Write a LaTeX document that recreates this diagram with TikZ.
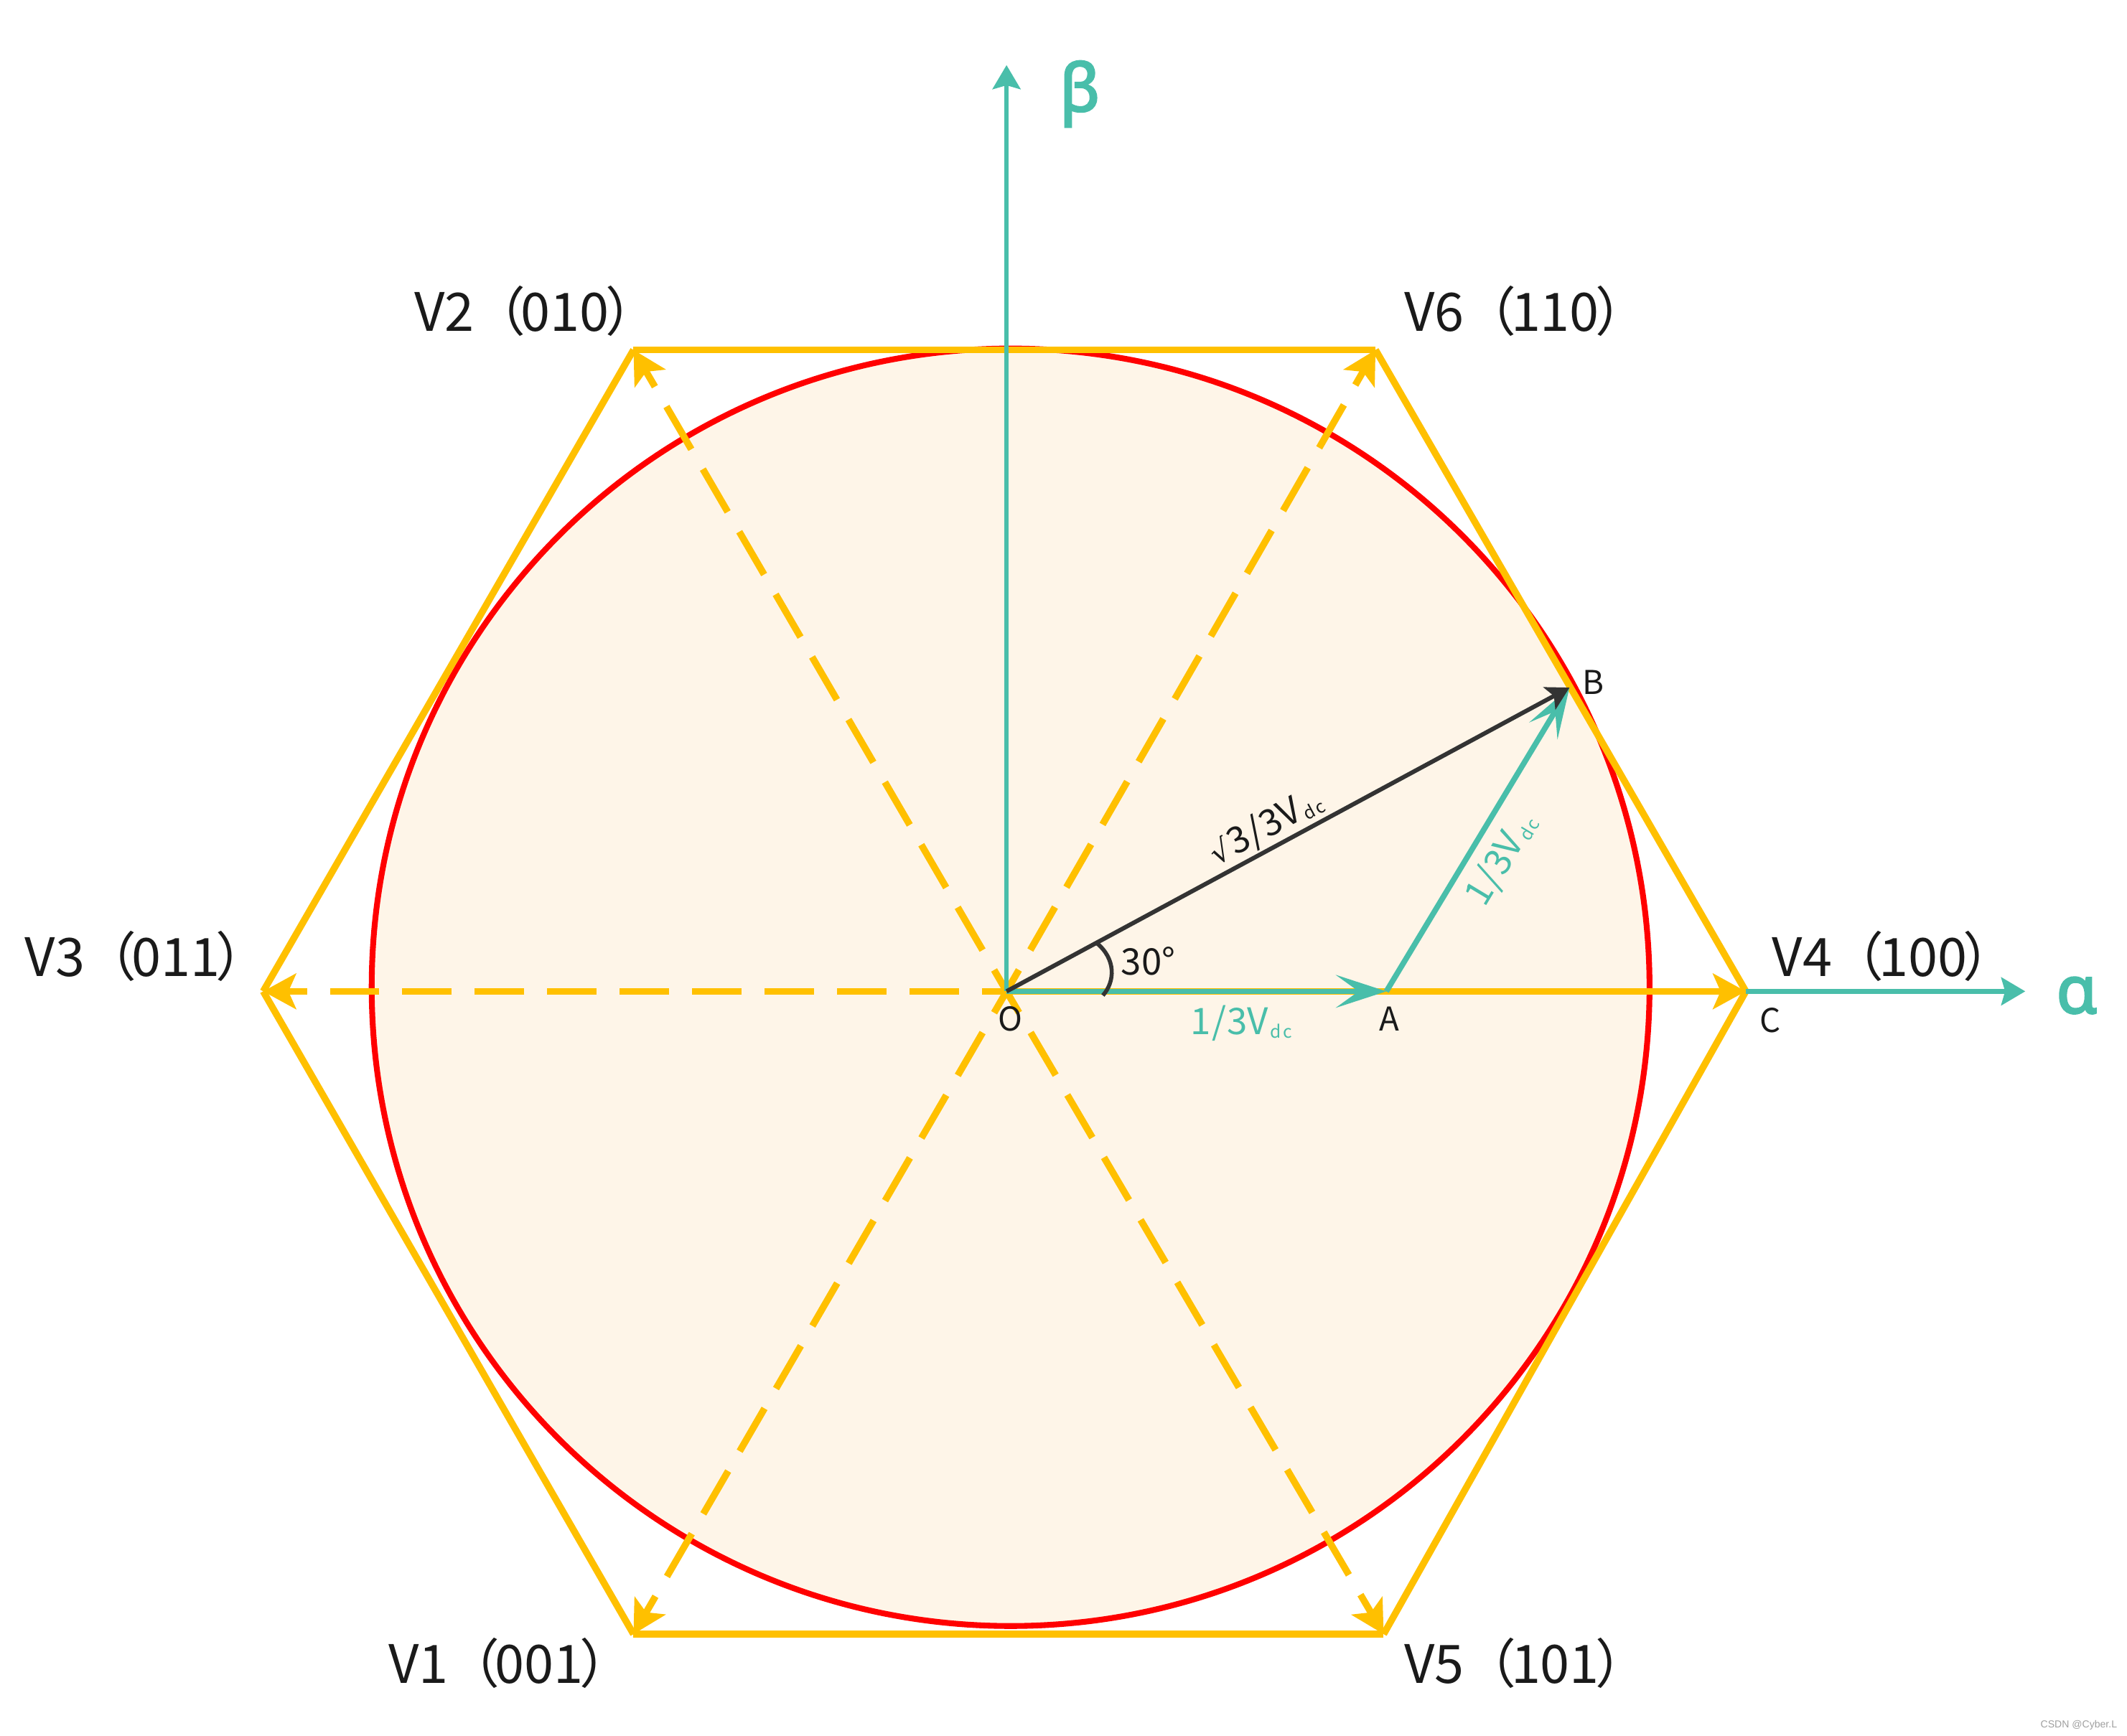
\documentclass[tikz,border=0pt]{standalone}
\usepackage{fontspec}
\setmainfont{Noto Sans CJK SC}
\newfontfamily\axisfont{Noto Sans}[FakeBold=3]
\newfontfamily\rootfont{DejaVu Sans}
\newfontfamily\wmfont{Liberation Sans}
\usetikzlibrary{arrows.meta}
\definecolor{hexyellow}{HTML}{FFC000}
\definecolor{tealc}{HTML}{49BEAA}
\definecolor{darkc}{HTML}{333333}
\definecolor{fillc}{HTML}{FEF5E8}
\definecolor{textc}{HTML}{1A1A1A}
\definecolor{wmc}{HTML}{A0A0A0}
\newcommand{\dcsub}{\kern0.6pt\raisebox{-1.4pt}{\fontsize{7pt}{8pt}\selectfont d\kern0.8pt c}}
\newcommand{\third}{1\kern0.4pt/\kern0.4pt3V\dcsub}
\newcommand{\vlab}[2]{#1\kern-0.5pt（\kern-2pt#2\kern-1.5pt）}
\begin{document}
\begin{tikzpicture}[x=0.018897cm,y=-0.018897cm,
  hexedge/.style={draw=hexyellow,line width=2.7pt},
  hexdash/.style={draw=hexyellow,line width=2.7pt,dash pattern=on 19.6pt off 9.1pt,dash phase=9.8pt},
  hextip/.style={-{Stealth[length=13pt,width=14pt,inset=3pt]}},
  axisline/.style={draw=tealc,line width=1.9pt,-{Stealth[length=9.5pt,width=11pt,inset=1.5pt]}},
  vecline/.style={draw=tealc,line width=2.2pt,-{Stealth[length=20pt,width=13pt,inset=9pt]}},
  resline/.style={draw=darkc,line width=1.7pt,-{Stealth[length=9pt,width=10pt,inset=2pt]}},
  vlabel/.style={anchor=base west,inner sep=0pt,text=textc,font=\fontsize{21pt}{25pt}\selectfont},
  ptlabel/.style={anchor=base,inner sep=0pt,text=textc,font=\fontsize{13pt}{15pt}\selectfont},
  vallabel/.style={anchor=base,inner sep=0pt,font=\fontsize{14.5pt}{17pt}\selectfont},
  axislabel/.style={anchor=base,inner sep=0pt,text=tealc,font=\axisfont\fontsize{26pt}{30pt}\selectfont},
]
\fill[white] (0,0) rectangle (1568,1280);
\useasboundingbox (0,0) rectangle (1568,1280);

% points
\coordinate (O) at (742,731);
\coordinate (V3) at (194,731);
\coordinate (V2) at (467,258);
\coordinate (V6) at (1014,258);
\coordinate (C) at (1287,731);
\coordinate (V5) at (1020,1205);
\coordinate (V1) at (467,1205);
\coordinate (A) at (1022,731);
\coordinate (B) at (1157,507);
\coordinate (btip) at (742,48);
\coordinate (atip) at (1493,731);

% circle
\fill[fillc] (745,728) circle[radius=471];
\draw[red,line width=2.3pt] (745,728) circle[radius=471];

% hexagon edges
\draw[hexedge] (V3) -- (V2);
\draw[hexedge] (V2) -- (V6);
\draw[hexedge] (V6) -- (C);
\draw[hexedge] (C) -- (V5);
\draw[hexedge] (V5) -- (V1);
\draw[hexedge] (V1) -- (V3);

% spokes
\draw[hexdash,hextip] (O) -- (V2);
\draw[hexdash,hextip] (O) -- (V6);
\draw[hexdash,hextip] (O) -- (V5);
\draw[hexdash,hextip] (O) -- (V1);
\draw[hexdash,hextip] (O) -- (V3);
\draw[hexedge,hextip] (O) -- (C);

% axes
\draw[axisline] (O) -- (btip);
\draw[axisline] (C) -- (atip);

% vectors
\draw[vecline] (O) -- (A);
\draw[vecline] (A) -- (B);
\draw[resline] (O) -- (B);
\draw[darkc,line width=1.6pt] (813,734) .. controls (822,724) and (823,707) .. (808,695);

% labels
\node[axislabel] (lbeta) at (796,82) {β};
\node[axislabel] (lalpha) at (1531,747) {α};

\node[vlabel] (lV2) at (305,244) {\vlab{V2}{010}};
\node[vlabel] (lV6) at (1035,244) {\vlab{V6}{110}};
\node[vlabel] (lV3) at (18,720) {\vlab{V3}{011}};
\node[vlabel] (lV4) at (1306,720) {\vlab{V4}{100}};
\node[vlabel] (lV1) at (286,1241) {\vlab{V1}{001}};
\node[vlabel] (lV5) at (1035,1241) {\vlab{V5}{101}};

\node[ptlabel] (lO) at (745,760) {O};
\node[ptlabel] (lA) at (1024,760) {A};
\node[ptlabel] (lB) at (1174.5,512) {B};
\node[ptlabel] (lC) at (1305,761) {C};

\node[vallabel,text=textc] (l30) at (846.5,719) {30°};
\node[vallabel,text=textc,rotate=28.4] (lOB) at (937,617) {{\rootfont\fontsize{12pt}{14pt}\selectfont √}\kern1pt3\kern0.4pt/\kern0.4pt3V\dcsub};
\node[vallabel,text=tealc] (lOA) at (915,763) {\third};
\node[vallabel,text=tealc,rotate=58.9] (lAB) at (1114.1,637.9) {\third};

\node[anchor=base east,inner sep=0pt,text=wmc,font=\wmfont\fontsize{4pt}{5pt}\selectfont] (wm) at (1561,1274) {CSDN @Cyber.L};
\end{tikzpicture}
\end{document}
